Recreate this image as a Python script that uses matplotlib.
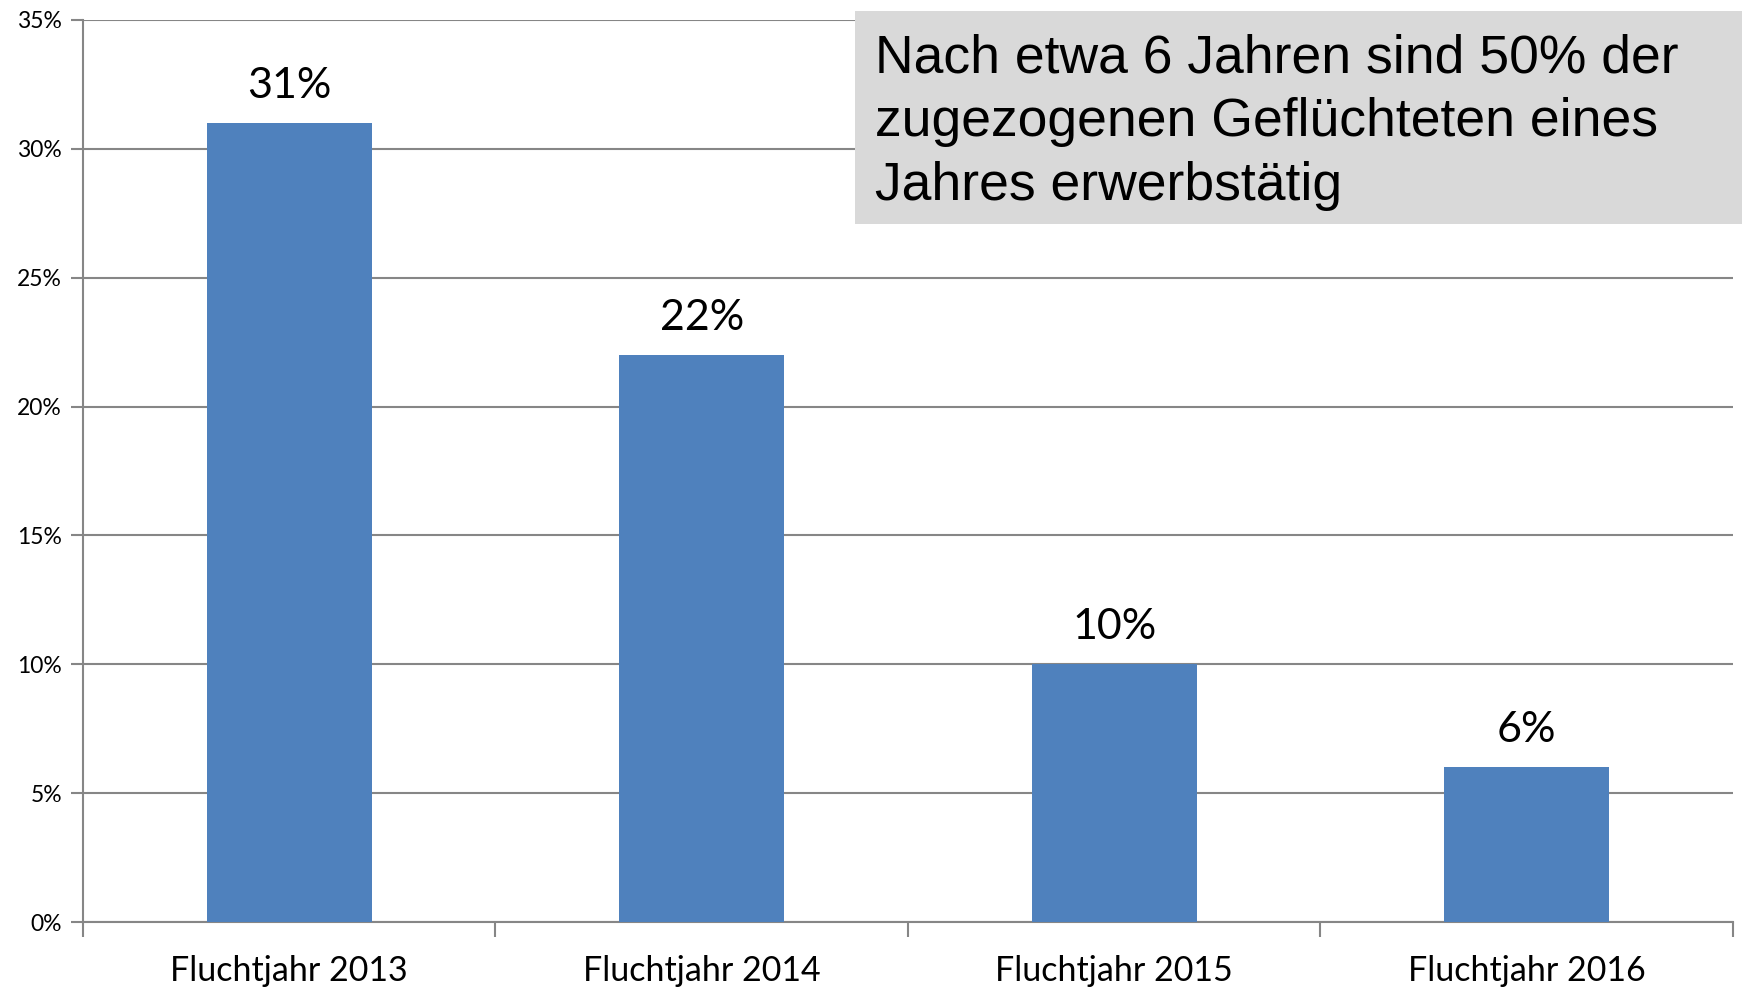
import matplotlib
matplotlib.use("Agg")
import matplotlib.pyplot as plt
from matplotlib.ticker import FixedLocator, PercentFormatter

# data
categories = ["Fluchtjahr 2013", "Fluchtjahr 2014", "Fluchtjahr 2015", "Fluchtjahr 2016"]
values = [31, 22, 10, 6]          # percent employed
yticks = [0, 5, 10, 15, 20, 25, 30, 35]
note = "Nach etwa 6 Jahren sind 50% der\nzugezogenen Geflüchteten eines\nJahres erwerbstätig"

barcolor = "#4f81bd"
gridcolor = "#868686"

plt.rcParams["font.family"] = ["Lato", "DejaVu Sans"]

fig = plt.figure(figsize=(17.42, 9.89), dpi=100)
ax = fig.add_axes([0.0476, 0.0677, 0.9472, 0.9121])

x = list(range(len(categories)))
ax.bar(x, values, width=0.4, color=barcolor, zorder=3)

# value labels above bars
for xi, v in zip(x, values):
    ax.annotate(f"{v}%", (xi, v), xytext=(0, 13), textcoords="offset points",
                ha="center", va="bottom", fontsize=31, color="black")

ax.set_xlim(-0.5, len(categories) - 0.5)
ax.set_ylim(0, 35)
ax.set_yticks(yticks)
ax.yaxis.set_major_formatter(PercentFormatter(decimals=0))
ax.yaxis.grid(True, color=gridcolor, linewidth=1.5, zorder=0)

ax.set_xticks(x)
ax.set_xticklabels(categories, fontsize=24.5)
ax.xaxis.set_minor_locator(FixedLocator([i - 0.5 for i in range(len(categories) + 1)]))
ax.tick_params(axis="x", which="major", length=0, pad=24)
ax.tick_params(axis="x", which="minor", length=11, width=1.5, color=gridcolor)
ax.tick_params(axis="y", length=9, width=1.5, color=gridcolor, labelsize=16.5, pad=6)

for s in ["top", "right"]:
    ax.spines[s].set_visible(False)
for s in ["left", "bottom"]:
    ax.spines[s].set_color(gridcolor)
    ax.spines[s].set_linewidth(1.5)

# grey note box in the upper right
fig.patches.append(plt.Rectangle((0.4908, 0.7735), 0.52, 0.2154, transform=fig.transFigure,
                                 facecolor="#d9d9d9", edgecolor="none", zorder=5))
fig.text(0.5023, 0.966, note, fontsize=38.5, family="Liberation Sans", va="top", ha="left",
         linespacing=1.35, zorder=6)

fig.savefig("out.png", dpi=100)
